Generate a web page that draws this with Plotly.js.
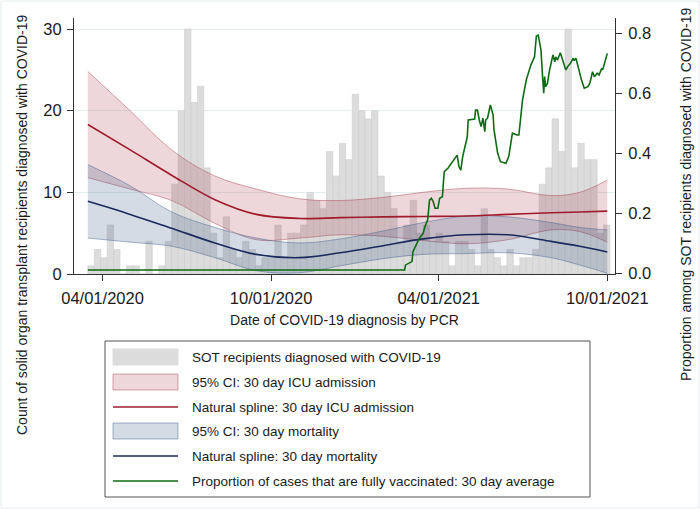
<!DOCTYPE html>
<html>
<head>
<meta charset="utf-8">
<script src="https://cdn.plot.ly/plotly-3.0.1.min.js"></script>
<style>
  html, body { margin: 0; padding: 0; background: #fff; }
  #chart { width: 700px; height: 509px; }
</style>
</head>
<body>
<div id="chart"></div>
<script>
// weekly SOT cases (bars), one value per week starting 2020-03-16
var firstWeek = [2020, 2, 16];
var weeklyCases = [1, 3, 2, 6, 3, 0, 1, 1, 0, 4,
  0, 1, 4, 11, 20, 30, 21, 23, 13, 5,
  2, 7, 3, 2, 4, 3, 1, 2, 2, 6,
  2, 5, 5, 6, 10, 9, 8, 15, 12, 16,
  14, 22, 20, 19, 20, 12, 10, 8, 4, 6,
  9, 5, 6, 4, 5, 4, 1, 4, 4, 3,
  1, 8, 3, 2, 1, 3, 1, 2, 2, 3,
  11, 13, 19, 15, 30, 13, 16, 14, 14, 5, 6];

// natural spline fits and 95% CI, read at these dates
var splineDates = ["2020-03-16", "2020-05-01", "2020-06-15", "2020-08-01", "2020-09-15",
  "2020-11-01", "2020-12-15", "2021-02-01", "2021-03-15", "2021-05-01",
  "2021-06-15", "2021-08-01", "2021-09-01", "2021-10-01"];
var icuFit   = [18.3, 15.2, 12.1, 9.1, 7.3, 6.8, 6.9, 7.0, 7.05, 7.1, 7.3, 7.5, 7.6, 7.7];
var icuUpper = [24.8, 20.0, 15.2, 12.0, 10.4, 9.2, 9.0, 9.4, 10.0, 10.5, 10.4, 9.6, 10.0, 11.5];
var icuLower = [11.8, 10.4, 9.0, 6.2, 4.2, 4.4, 4.8, 4.6, 4.1, 3.7, 4.2, 5.4, 5.2, 3.9];
var mortFit   = [8.9, 7.3, 5.6, 3.8, 2.4, 2.0, 2.6, 3.5, 4.3, 4.8, 4.8, 4.0, 3.4, 2.7];
var mortUpper = [13.4, 10.8, 7.6, 5.7, 4.4, 3.8, 4.3, 5.3, 6.3, 7.1, 7.0, 6.3, 5.7, 5.4];
var mortLower = [4.4, 3.9, 3.4, 2.0, 0.4, 0.15, 1.0, 1.9, 2.4, 2.5, 2.6, 2.0, 1.1, 0.1];

// proportion fully vaccinated, 30 day average (right axis)
var vaxDates = ["2020-03-16", "2021-02-23", "2021-02-24", "2021-03-03", "2021-03-04",
  "2021-03-08", "2021-03-11", "2021-03-15", "2021-03-17", "2021-03-20",
  "2021-03-22", "2021-03-24", "2021-03-26", "2021-03-28", "2021-03-31",
  "2021-04-02", "2021-04-05", "2021-04-06", "2021-04-07", "2021-04-11",
  "2021-04-15", "2021-04-18", "2021-04-21", "2021-04-23", "2021-04-25",
  "2021-04-27", "2021-04-29", "2021-05-02", "2021-05-03", "2021-05-06",
  "2021-05-10", "2021-05-11", "2021-05-13", "2021-05-15", "2021-05-17",
  "2021-05-19", "2021-05-21", "2021-05-22", "2021-05-24", "2021-05-27",
  "2021-05-30", "2021-05-31", "2021-06-04", "2021-06-07", "2021-06-13",
  "2021-06-16", "2021-06-20", "2021-06-25", "2021-06-27", "2021-07-01",
  "2021-07-05", "2021-07-10", "2021-07-14", "2021-07-16", "2021-07-18",
  "2021-07-19", "2021-07-21", "2021-07-23", "2021-07-24", "2021-07-25",
  "2021-07-26", "2021-07-28", "2021-07-30", "2021-08-03", "2021-08-05",
  "2021-08-06", "2021-08-08", "2021-08-11", "2021-08-14", "2021-08-17",
  "2021-08-19", "2021-08-22", "2021-08-25", "2021-08-26", "2021-08-28",
  "2021-08-31", "2021-09-03", "2021-09-06", "2021-09-10", "2021-09-12",
  "2021-09-15", "2021-09-17", "2021-09-20", "2021-09-22", "2021-09-25",
  "2021-09-26", "2021-09-28", "2021-10-01"];
var vaxProp = [0.01, 0.01, 0.027, 0.038, 0.071,
  0.099, 0.116, 0.132, 0.154, 0.177,
  0.243, 0.249, 0.238, 0.216, 0.216,
  0.249, 0.254, 0.299, 0.338, 0.349,
  0.366, 0.382, 0.393, 0.354, 0.343,
  0.388, 0.416, 0.454, 0.51, 0.512,
  0.513, 0.543, 0.543, 0.51, 0.488,
  0.516, 0.471, 0.51, 0.516, 0.56,
  0.527, 0.477, 0.399, 0.371, 0.366,
  0.388, 0.466, 0.46, 0.46, 0.577,
  0.643, 0.693, 0.721, 0.79, 0.793,
  0.777, 0.743, 0.643, 0.599, 0.655,
  0.621, 0.632, 0.671, 0.727, 0.704,
  0.72, 0.71, 0.734, 0.704, 0.677,
  0.688, 0.699, 0.716, 0.708, 0.716,
  0.677, 0.643, 0.616, 0.621, 0.632,
  0.671, 0.654, 0.666, 0.66, 0.682,
  0.677, 0.699, 0.732];

var xTickVals = ["2020-04-01", "2020-10-01", "2021-04-01", "2021-10-01"];
var xTickText = ["04/01/2020", "10/01/2020", "04/01/2021", "10/01/2021"];

var legendLabels = ["SOT recipients diagnosed with COVID-19",
  "95% CI: 30 day ICU admission",
  "Natural spline: 30 day ICU admission",
  "95% CI: 30 day mortality",
  "Natural spline: 30 day mortality",
  "Proportion of cases that are fully vaccinated: 30 day average"];

var weekStart = [];
for (var i = 0; i < weeklyCases.length; i++) {
  var d = new Date(Date.UTC(firstWeek[0], firstWeek[1], firstWeek[2] + 7 * i));
  weekStart.push(d.toISOString().slice(0, 10));
}

var barCol = "#dcdcdc";
var redLine = "#9e1b2b", redFill = "rgba(160,40,60,0.19)", redEdge = "rgba(165,60,75,0.45)";
var blueLine = "#1b2a5c", blueFill = "rgba(40,75,125,0.2)", blueEdge = "rgba(60,90,135,0.45)";
var greenLine = "#0d6b12";
var font = "Liberation Sans, Arial, sans-serif";

var day = 24 * 3600 * 1000;
var data = [
  {type: "bar", x: weekStart, y: weeklyCases, offset: 0, width: 7 * day,
   marker: {color: barCol, line: {color: "#c8c8c8", width: 0.5}}, hoverinfo: "x+y"},
  {x: splineDates, y: icuLower, mode: "lines", line: {color: redEdge, width: 1, shape: "spline"}},
  {x: splineDates, y: icuUpper, mode: "lines", fill: "tonexty", fillcolor: redFill,
   line: {color: redEdge, width: 1, shape: "spline"}},
  {x: splineDates, y: mortLower, mode: "lines", line: {color: blueEdge, width: 1, shape: "spline"}},
  {x: splineDates, y: mortUpper, mode: "lines", fill: "tonexty", fillcolor: blueFill,
   line: {color: blueEdge, width: 1, shape: "spline"}},
  {x: splineDates, y: icuFit, mode: "lines", line: {color: redLine, width: 1.6, shape: "spline"}},
  {x: splineDates, y: mortFit, mode: "lines", line: {color: blueLine, width: 1.6, shape: "spline"}},
  {x: vaxDates, y: vaxProp, yaxis: "y2", mode: "lines", line: {color: greenLine, width: 1.6}}
];

// plot area in pixels, used to place the legend box below it
var L = 74, R = 615, T = 18, B = 274;
function px(x) { return (x - L) / (R - L); }
function py(y) { return (B - y) / (B - T); }

var rowY = [357, 382, 407, 431, 456, 481];
var shapes = [
  {type: "rect", xref: "paper", yref: "paper", x0: px(1), x1: px(699), y0: py(1), y1: py(508),
   line: {color: "#e4ecec", width: 1}},
  {type: "rect", xref: "paper", yref: "paper", x0: px(105), x1: px(590), y0: py(341), y1: py(497),
   line: {color: "#555", width: 1}}
];
var symFill = [barCol, redFill, null, blueFill, null, null];
var symEdge = [barCol, redEdge, redLine, blueEdge, blueLine, greenLine];
var annotations = [];
for (var k = 0; k < legendLabels.length; k++) {
  if (symFill[k]) {
    shapes.push({type: "rect", xref: "paper", yref: "paper",
      x0: px(113), x1: px(178), y0: py(rowY[k] - 8), y1: py(rowY[k] + 8),
      fillcolor: symFill[k], line: {color: symEdge[k], width: 1}});
  } else {
    shapes.push({type: "line", xref: "paper", yref: "paper",
      x0: px(113), x1: px(178), y0: py(rowY[k]), y1: py(rowY[k]),
      line: {color: symEdge[k], width: 1.6}});
  }
  annotations.push({xref: "paper", yref: "paper", x: px(190), y: py(rowY[k]),
    xanchor: "left", yanchor: "middle", showarrow: false, text: legendLabels[k],
    font: {size: 13.5, color: "#1a1a1a"}});
}
annotations.push({xref: "paper", yref: "paper", x: px(22), y: py(225), textangle: -90,
  xanchor: "center", yanchor: "middle", showarrow: false,
  text: "Count of solid organ transplant recipients diagnosed with COVID-19",
  font: {size: 14, color: "#1a1a1a"}});
annotations.push({xref: "paper", yref: "paper", x: px(686), y: py(195), textangle: -90,
  xanchor: "center", yanchor: "middle", showarrow: false,
  text: "Proportion among SOT recipients diagnosed with COVID-19",
  font: {size: 14, color: "#1a1a1a"}});

var layout = {
  width: 700, height: 509,
  margin: {l: L, r: 700 - R, t: T, b: 509 - B},
  paper_bgcolor: "#fff", plot_bgcolor: "#fff",
  font: {family: font, color: "#1a1a1a"},
  showlegend: false,
  xaxis: {
    type: "date", range: ["2020-03-01", "2021-10-09 09:00"],
    tickvals: xTickVals, ticktext: xTickText,
    ticks: "outside", ticklen: 6, tickcolor: "#333", ticklabelstandoff: 3,
    showline: true, linecolor: "#333", showgrid: false, zeroline: false,
    tickfont: {size: 16.5},
    title: {text: "Date of COVID-19 diagnosis by PCR", font: {size: 14}, standoff: 9}
  },
  yaxis: {
    range: [0, 31.35], tickvals: [0, 10, 20, 30],
    ticks: "outside", ticklen: 6, tickcolor: "#333", ticklabelstandoff: 2,
    showline: true, linecolor: "#333", zeroline: false,
    showgrid: true, gridcolor: "#e4eeee",
    tickfont: {size: 16.5}
  },
  yaxis2: {
    overlaying: "y", side: "right",
    range: [-0.0033, 0.85], tickvals: [0, 0.2, 0.4, 0.6, 0.8], tickformat: ".1f",
    ticks: "outside", ticklen: 6, tickcolor: "#333", ticklabelstandoff: 3,
    showline: true, linecolor: "#333", zeroline: false, showgrid: false,
    tickfont: {size: 16.5}
  },
  shapes: shapes,
  annotations: annotations
};

Plotly.newPlot("chart", data, layout, {displayModeBar: false, staticPlot: true});
</script>
</body>
</html>
